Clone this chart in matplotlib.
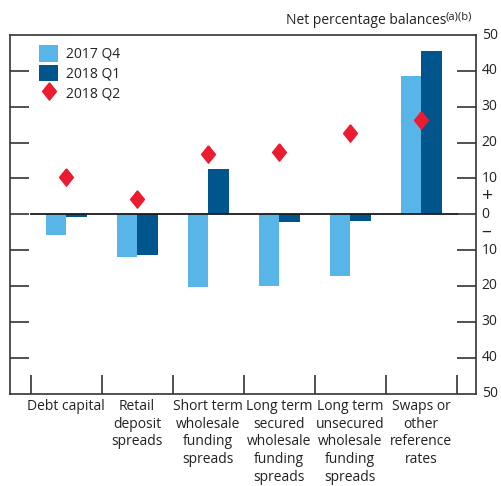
import matplotlib
matplotlib.use("Agg")
import matplotlib.pyplot as plt
import numpy as np

plt.rcParams['font.family'] = ['Open Sans', 'DejaVu Sans']

categories = ["Debt capital", "Retail\ndeposit\nspreads", "Short term\nwholesale\nfunding\nspreads",
              "Long term\nsecured\nwholesale\nfunding\nspreads", "Long term\nunsecured\nwholesale\nfunding\nspreads",
              "Swaps or\nother\nreference\nrates"]
q4_2017 = [-5.8, -11.9, -20.3, -20.1, -17.3, 38.5]
q1_2018 = [-0.8, -11.4, 12.6, -2.1, -1.9, 45.5]
q2_2018 = [10.3, 4.2, 16.8, 17.4, 22.7, 26.2]
yticks = [50, 40, 30, 20, 10, 0, -10, -20, -30, -40, -50]
ytick_labels = ["50", "40", "30", "20", "10", "0", "10", "20", "30", "40", "50"]

c_light = "#57B5E7"
c_dark = "#00558C"
c_red = "#ED1B2F"

fig = plt.figure(figsize=(5.01, 4.86), dpi=100)
W, H = 501, 486
ax = fig.add_axes([10 / W, 1 - 393.5 / H, (476 - 10) / W, (393.5 - 35) / H])

x = np.arange(len(categories))
bw = 0.29
b1 = ax.bar(x - bw / 2, q4_2017, width=bw, color=c_light, label="2017 Q4", zorder=2)
b2 = ax.bar(x + bw / 2, q1_2018, width=bw, color=c_dark, label="2018 Q1", zorder=2)
diamond = [(0, 1), (0.8, 0), (0, -1), (-0.8, 0), (0, 1)]
l3, = ax.plot(x, q2_2018, linestyle="none", marker=diamond, markersize=12.5, color=c_red,
              label="2018 Q2", zorder=3)

ax.set_xlim(-0.79, 5.77)
ax.set_ylim(-50, 50)
ax.plot([-0.5, 5.5], [0, 0], color="#1a1a1a", lw=1.3, zorder=4)

for s in ax.spines.values():
    s.set_color("#333333")
    s.set_linewidth(1.2)

ax.set_yticks([t for t in yticks if abs(t) != 50])
ax.tick_params(axis="y", direction="in", length=14, width=1.2, color="#333333",
               left=True, right=True, labelleft=False, labelright=False)
for t, lab in zip(yticks, ytick_labels):
    ax.text(1.012, (t + 50) / 100, lab, transform=ax.transAxes, ha="left", va="center",
            fontsize=10, color="#222222")
ax.text(1.012, (5 + 50) / 100, "+", transform=ax.transAxes, ha="left", va="center",
        fontsize=14, color="#222222")
ax.text(1.012, (-5 + 50) / 100, "\u2013", transform=ax.transAxes, ha="left", va="center",
        fontsize=14, color="#222222")

ax.set_xticks(np.arange(-0.5, 6, 1.0))
ax.set_xticklabels([])
ax.tick_params(axis="x", direction="in", length=14, width=1.2, color="#333333", bottom=True, top=False)
for xi, lab in zip(x, categories):
    ax.text(xi, -51.5, lab, ha="center", va="top", fontsize=10, color="#222222",
            linespacing=1.25)

fig.text(446 / W, 1 - 21 / H, "Net percentage balances", ha="right", va="center",
         fontsize=10, color="#222222")
fig.text(446 / W, 1 - 17 / H, "(a)(b)", ha="left", va="center", fontsize=8, color="#222222")

leg = ax.legend([b1, b2, l3], ["2017 Q4", "2018 Q1", "2018 Q2"],
                loc="upper left", bbox_to_anchor=(0.045, 0.995), frameon=False, fontsize=10,
                handlelength=1.35, handleheight=1.45, handletextpad=0.6, labelspacing=0.2,
                borderaxespad=0.2)
for t in leg.get_texts():
    t.set_color("#222222")

fig.savefig("out.png", dpi=100)
